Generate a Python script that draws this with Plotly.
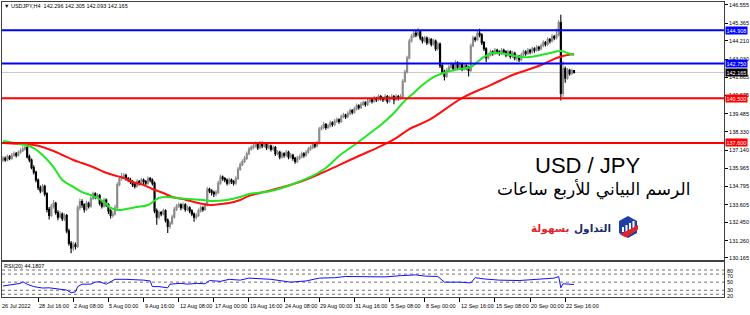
import plotly.graph_objects as go

# ---------------- data (USDJPY H4) ----------------
bar_index = list(range(261))

opens = [136.50,136.60,136.50,136.70,136.60,136.80,136.90,136.80,137.00,137.10,
137.20,137.30,136.70,136.50,136.00,135.70,135.20,134.70,134.50,134.80,
134.30,133.30,132.90,133.50,133.70,133.10,132.80,133.00,132.70,132.90,
131.90,131.10,130.80,131.00,130.90,133.40,133.80,133.60,133.30,133.70,
133.50,134.00,134.30,134.10,134.20,133.70,133.50,133.90,133.60,133.20,
132.90,133.00,133.40,134.90,135.30,135.40,135.50,135.30,135.20,135.10,
134.90,134.80,135.10,135.00,135.20,135.10,135.00,135.30,135.20,135.00,
133.20,132.80,133.10,133.00,133.20,132.60,132.20,132.40,132.80,133.30,
133.50,133.60,133.40,133.60,133.30,133.40,133.20,133.00,132.80,132.90,
133.20,133.40,133.30,133.60,134.60,134.50,134.40,134.30,134.40,135.00,
135.40,135.30,135.20,135.00,135.20,135.10,135.00,135.30,135.90,136.20,
136.40,136.60,136.90,137.20,137.30,137.40,137.50,137.30,137.60,137.40,
137.50,137.30,137.40,137.20,137.30,136.90,137.00,136.70,136.90,136.80,
137.00,136.70,136.80,136.60,136.40,136.60,136.70,136.90,136.80,137.00,
137.20,137.30,137.50,137.40,137.60,138.50,138.60,138.80,138.60,138.70,
138.90,138.80,139.00,139.10,139.00,139.30,139.40,139.30,139.50,139.70,
139.60,139.80,140.00,139.90,140.10,140.20,140.10,140.30,140.40,140.30,
140.50,140.40,140.60,140.50,140.40,140.60,140.30,140.50,140.60,140.40,
140.60,140.50,140.60,141.60,142.20,143.10,144.20,144.50,144.70,144.60,
144.80,144.40,144.20,144.40,144.10,144.30,144.00,144.20,143.70,144.00,
142.60,142.20,141.90,142.30,142.50,142.70,142.40,142.80,142.50,142.70,
142.40,142.60,142.50,142.30,143.90,144.40,144.30,144.70,144.60,144.10,
143.70,143.10,143.30,143.50,143.40,143.60,143.50,143.40,143.60,143.50,
143.30,143.50,143.20,143.40,143.10,143.20,143.00,143.30,143.50,143.40,
143.60,143.50,143.70,143.60,143.80,143.70,143.90,144.10,144.00,144.30,
144.20,144.50,144.40,144.60,145.40,140.80,142.40,141.80,142.30,142.10,
142.296]

highs = [136.75,136.72,136.85,136.82,136.95,137.05,137.02,137.12,137.25,137.38,
137.65,137.40,136.85,136.60,136.15,135.80,135.30,134.85,134.95,134.90,
134.40,133.45,133.65,133.90,133.80,133.25,133.20,133.10,133.05,133.00,
132.05,131.25,131.20,131.15,133.55,134.00,133.95,133.70,133.85,133.80,
134.15,134.45,134.40,134.35,134.30,133.85,134.05,134.00,133.70,133.30,
133.20,133.60,135.05,135.45,135.65,135.65,135.60,135.40,135.35,135.20,
135.00,135.25,135.20,135.35,135.30,135.20,135.45,135.40,135.30,135.10,
133.35,133.25,133.20,133.35,133.30,132.70,132.55,132.95,133.45,133.65,
133.75,133.70,133.75,133.70,133.55,133.50,133.30,133.10,133.05,133.35,
133.55,133.50,133.75,134.75,134.70,134.60,134.50,134.55,135.15,135.55,
135.50,135.40,135.30,135.35,135.30,135.20,135.45,136.05,136.35,136.55,
136.75,137.05,137.35,137.45,137.55,137.70,137.60,137.75,137.70,137.65,
137.60,137.55,137.50,137.45,137.40,137.15,137.10,137.05,137.00,137.15,
137.10,136.95,136.90,136.70,136.75,136.85,137.05,137.00,137.15,137.35,
137.45,137.65,137.60,137.75,138.65,138.75,138.95,138.90,138.85,139.05,
139.00,139.15,139.25,139.20,139.45,139.55,139.50,139.65,139.85,139.80,
139.95,140.15,140.10,140.25,140.35,140.30,140.45,140.55,140.50,140.65,
140.60,140.75,140.70,140.60,140.75,140.70,140.65,140.75,140.70,140.75,
140.70,140.75,141.75,142.35,143.25,144.35,144.65,144.85,144.85,145.05,
144.90,144.50,144.55,144.50,144.45,144.40,144.35,144.30,144.15,144.10,
142.75,142.35,142.45,142.65,142.85,142.80,142.95,142.90,142.85,142.80,
142.75,142.70,142.60,144.05,144.55,144.50,144.85,145.00,144.70,144.20,
143.80,143.45,143.65,143.60,143.75,143.70,143.60,143.75,143.70,143.60,
143.65,143.60,143.55,143.50,143.35,143.30,143.45,143.65,143.60,143.75,
143.70,143.85,143.80,143.95,143.90,144.05,144.25,144.20,144.45,144.40,
144.65,144.60,145.00,145.55,145.90,142.90,142.55,142.45,142.40,142.40,
142.305]

lows = [136.35,136.38,136.42,136.48,136.52,136.70,136.66,136.72,136.90,137.02,
137.10,136.60,136.35,135.90,135.55,135.05,134.55,134.35,134.40,134.15,
133.10,132.65,132.80,133.35,132.95,132.60,132.70,132.55,132.55,131.75,
130.95,130.45,130.60,130.70,130.80,133.25,133.40,133.10,133.20,133.35,
133.40,133.90,133.95,133.95,133.55,133.35,133.40,133.45,133.00,132.70,
132.75,132.90,133.30,134.80,135.15,135.30,135.15,135.05,134.95,134.75,
134.65,134.70,134.85,134.90,134.95,134.85,134.90,135.05,134.85,133.05,
132.30,132.65,132.85,132.90,132.45,131.77,132.05,132.30,132.70,133.20,
133.40,133.25,133.30,133.15,133.20,133.05,132.85,132.50,132.65,132.80,
133.10,133.15,133.20,133.50,134.35,134.20,134.10,134.15,134.30,134.90,
135.15,135.05,134.85,134.90,134.95,134.85,134.90,135.20,135.80,136.10,
136.30,136.50,136.80,137.10,137.20,137.30,137.15,137.20,137.25,137.30,
137.15,137.20,137.05,137.10,136.75,136.80,136.55,136.60,136.65,136.70,
136.55,136.60,136.45,136.25,136.30,136.50,136.60,136.65,136.70,136.90,
137.10,137.20,137.25,137.30,137.50,138.40,138.50,138.45,138.50,138.60,
138.65,138.70,138.90,138.85,138.90,139.20,139.15,139.20,139.40,139.45,
139.50,139.70,139.75,139.80,140.00,139.95,140.00,140.20,140.15,140.20,
140.25,140.30,140.35,140.25,140.30,140.15,140.20,140.40,140.10,140.30,
140.35,140.40,140.50,141.50,142.10,143.00,144.10,144.40,144.45,144.50,
144.25,144.05,144.10,143.95,144.00,143.85,143.90,143.55,143.60,142.45,
142.05,141.65,141.80,142.20,142.40,142.25,142.30,142.35,142.40,142.25,
142.30,142.35,141.90,142.20,143.80,144.15,144.20,144.45,143.95,143.55,
142.85,143.00,143.20,143.25,143.30,143.35,143.25,143.30,143.35,143.15,
143.20,143.05,143.10,142.95,142.90,142.85,142.90,143.20,143.25,143.30,
143.35,143.40,143.45,143.50,143.55,143.60,143.80,143.85,143.90,144.05,
144.10,144.25,144.30,144.50,140.35,140.60,141.50,141.70,141.95,142.00,
142.093]

closes = [136.60,136.50,136.70,136.60,136.80,136.90,136.80,137.00,137.10,137.20,
137.30,136.70,136.50,136.00,135.70,135.20,134.70,134.50,134.80,134.30,
133.30,132.90,133.50,133.70,133.10,132.80,133.00,132.70,132.90,131.90,
131.10,130.80,131.00,130.90,133.40,133.80,133.60,133.30,133.70,133.50,
134.00,134.30,134.10,134.20,133.70,133.50,133.90,133.60,133.20,132.90,
133.00,133.40,134.90,135.30,135.40,135.50,135.30,135.20,135.10,134.90,
134.80,135.10,135.00,135.20,135.10,135.00,135.30,135.20,135.00,133.20,
132.80,133.10,133.00,133.20,132.60,132.20,132.40,132.80,133.30,133.50,
133.60,133.40,133.60,133.30,133.40,133.20,133.00,132.80,132.90,133.20,
133.40,133.30,133.60,134.60,134.50,134.40,134.30,134.40,135.00,135.40,
135.30,135.20,135.00,135.20,135.10,135.00,135.30,135.90,136.20,136.40,
136.60,136.90,137.20,137.30,137.40,137.50,137.30,137.60,137.40,137.50,
137.30,137.40,137.20,137.30,136.90,137.00,136.70,136.90,136.80,137.00,
136.70,136.80,136.60,136.40,136.60,136.70,136.90,136.80,137.00,137.20,
137.30,137.50,137.40,137.60,138.50,138.60,138.80,138.60,138.70,138.90,
138.80,139.00,139.10,139.00,139.30,139.40,139.30,139.50,139.70,139.60,
139.80,140.00,139.90,140.10,140.20,140.10,140.30,140.40,140.30,140.50,
140.40,140.60,140.50,140.40,140.60,140.30,140.50,140.60,140.40,140.60,
140.50,140.60,141.60,142.20,143.10,144.20,144.50,144.70,144.60,144.80,
144.40,144.20,144.40,144.10,144.30,144.00,144.20,143.70,144.00,142.60,
142.20,141.90,142.30,142.50,142.70,142.40,142.80,142.50,142.70,142.40,
142.60,142.50,142.30,143.90,144.40,144.30,144.70,144.60,144.10,143.70,
143.10,143.30,143.50,143.40,143.60,143.50,143.40,143.60,143.50,143.30,
143.50,143.20,143.40,143.10,143.20,143.00,143.30,143.50,143.40,143.60,
143.50,143.70,143.60,143.80,143.70,143.90,144.10,144.00,144.30,144.20,
144.50,144.40,144.60,145.40,140.80,142.40,141.80,142.30,142.10,142.296,
142.165]

# moving averages, read at sample bars
ma_fast_idx = [0,10,14,18,23,27,32,36,41,46,49,52,56,61,66,71,75,79,85,91,96,102,108,112,
               122,131,140,147,153,160,166,172,178,182,187,191,196,202,208,213,216,219,
               223,226,231,235,240,245,249,254,257,260]
ma_fast = [137.73,137.47,137.27,136.82,136.04,135.20,134.75,134.42,134.17,133.78,133.39,133.26,
           133.32,133.45,133.58,134.04,134.10,134.04,133.97,133.91,133.84,133.91,134.10,134.29,
           134.49,134.88,135.40,135.98,136.76,137.47,138.12,138.76,139.54,140.19,140.84,141.35,
           141.87,142.20,142.39,142.52,142.84,143.17,143.43,143.43,143.30,143.17,143.17,143.30,
           143.43,143.56,143.43,143.30]
ma_slow_idx = [0,8,14,18,23,27,32,36,41,46,50,55,59,64,68,73,77,82,87,91,94,99,103,108,112,117,
               126,135,144,153,163,172,179,185,194,209,222,232,245,252,255,260]
ma_slow = [137.60,137.53,137.47,137.34,137.08,136.82,136.50,136.30,136.04,135.72,135.53,135.33,
           135.07,134.88,134.62,134.36,134.10,133.97,133.78,133.65,133.58,133.65,133.71,133.91,
           134.17,134.36,134.68,135.07,135.59,136.17,136.82,137.40,137.92,138.50,139.09,140.51,
           141.35,142.00,142.65,143.10,143.23,143.36]

# RSI(20), read at sample bars
rsi_idx = [0,3,8,9,11,14,18,21,26,29,31,33,34,36,40,42,44,47,51,56,64,67,68,71,75,76,81,84,88,
           92,94,99,103,108,112,122,131,138,144,151,156,165,174,181,188,192,198,201,208,213,215,
           219,226,235,245,251,253,254,255,257,259,260]
rsi_vals = [40.5,43,47,51,45,39,35.5,36,32,30.5,24,26,39,45,45,50,51,45,57,57,55,53,39,39,36,45,
            47,45,47,46,54,52,57,55,60,57,50,53,60,61,64,63,63,66,68,65,64,50,50,48,61,
            58,55,54,57,60,64,36,46,45,45,44.1807]
rsi_levels = [80, 70, 50, 30, 20]
rsi_scale_labels = ["100", "80", "70", "50", "30", "20", "0"]
rsi_scale_values = [100, 80, 70, 50, 30, 20, 0]

# horizontal levels
levels = [144.908, 142.750, 140.500, 137.600]
level_colors = ["#0000ff", "#0000ff", "#ff0000", "#ff0000"]
bid_price = 142.165

# axes labels
price_ticks = [146.555, 145.365, 144.210, 143.030, 141.865, 140.675, 139.485, 138.330,
               137.140, 135.965, 134.795, 133.605, 132.450, 131.260, 130.165]
time_tick_idx = [0, 16, 32, 48, 64, 80, 96, 112, 128, 144, 160, 176, 192, 208, 224, 240, 256]
time_tick_text = ["26 Jul 2022", "28 Jul 16:00", "2 Aug 08:00", "5 Aug 00:00", "9 Aug 16:00",
                  "12 Aug 08:00", "17 Aug 00:00", "19 Aug 16:00", "24 Aug 08:00", "29 Aug 00:00",
                  "31 Aug 16:00", "5 Sep 08:00", "8 Sep 00:00", "12 Sep 16:00", "15 Sep 08:00",
                  "20 Sep 00:00", "22 Sep 16:00"]

# ---------------- figure ----------------
W, H = 750, 315
ML, MR, MT, MB = 2, 26, 2, 18
PW, PH = W - ML - MR, H - MT - MB
SMALL = dict(family="Liberation Sans, Arial, sans-serif", size=5.5, color="#000000")


def px(x, y):
    return (x - ML) / PW, (H - MB - y) / PH


fig = go.Figure()
fig.add_trace(go.Candlestick(
    x=bar_index, open=opens, high=highs, low=lows, close=closes,
    increasing=dict(line=dict(color="#8c8c8c", width=1.1), fillcolor="#8c8c8c"),
    decreasing=dict(line=dict(color="#000000", width=1.1), fillcolor="#000000"),
    whiskerwidth=0, showlegend=False, hoverinfo="skip", xaxis="x", yaxis="y"))
fig.add_trace(go.Scatter(x=ma_slow_idx, y=ma_slow, mode="lines", showlegend=False,
                         line=dict(color="#ff1010", width=2, shape="spline"), xaxis="x", yaxis="y"))
fig.add_trace(go.Scatter(x=ma_fast_idx, y=ma_fast, mode="lines", showlegend=False,
                         line=dict(color="#22e622", width=2, shape="spline"), xaxis="x", yaxis="y"))
fig.add_trace(go.Scatter(x=rsi_idx, y=rsi_vals, mode="lines", showlegend=False,
                         line=dict(color="#1010ff", width=1), xaxis="x2", yaxis="y2"))

shapes = []
shapes.append(dict(type="line", xref="paper", x0=0, x1=1, yref="y", y0=bid_price, y1=bid_price,
                   line=dict(color="#c8c8c8", width=1), layer="below"))
for lv, col in zip(levels, level_colors):
    shapes.append(dict(type="line", xref="paper", x0=0, x1=1, yref="y", y0=lv, y1=lv,
                       line=dict(color=col, width=2)))
for lv in rsi_levels:
    shapes.append(dict(type="line", xref="paper", x0=0, x1=1, yref="y2", y0=lv, y1=lv,
                       line=dict(color="#707070", width=1, dash="dot"), layer="below"))


# logo icon (decoration)
def path_from(points):
    s = ""
    for k, (x, y) in enumerate(points):
        a, b = px(x, y)
        s += ("M" if k == 0 else "L") + f"{a:.5f},{b:.5f} "
    return s + "Z"


shapes.append(dict(type="path", xref="paper", yref="paper",
                   path=path_from([(628, 216), (637, 221), (637, 233), (628, 238), (619, 233), (619, 221)]),
                   fillcolor="#1e3fa8", line=dict(width=0)))
for (bx, top) in [(622, 227), (625.5, 225), (629, 223), (632.5, 221)]:
    shapes.append(dict(type="path", xref="paper", yref="paper",
                       path=path_from([(bx, top), (bx + 2, top), (bx + 2, 232), (bx, 232)]),
                       fillcolor="#ffffff", line=dict(width=0)))
shapes.append(dict(type="path", xref="paper", yref="paper",
                   path=path_from([(620, 234.5), (638, 225), (638, 229.5), (626, 237.5)]),
                   fillcolor="#e3232c", line=dict(width=0)))

ann = []
for idx, txt in zip(time_tick_idx, time_tick_text):
    ann.append(dict(x=idx, xref="x2", y=0, yref="paper", yanchor="top", xanchor="left",
                    yshift=-4, xshift=-1 if idx else -3, text=txt, showarrow=False, font=SMALL))
for lv, col in zip(levels, level_colors):
    ann.append(dict(x=1, xref="paper", y=lv, yref="y", xanchor="left", yanchor="middle", xshift=1,
                    text=f"{lv:.3f}", showarrow=False, bgcolor=col, borderpad=0.5,
                    font=dict(family=SMALL["family"], size=5.5, color="#ffffff")))
ann.append(dict(x=1, xref="paper", y=bid_price, yref="y", xanchor="left", yanchor="middle", xshift=1,
                text=f"{bid_price:.3f}", showarrow=False, bgcolor="#000000", borderpad=0.5,
                font=dict(family=SMALL["family"], size=5.5, color="#ffffff")))
rsi_label_shift = [-3, 1, 2, 0, 0, 1.5, 3.4]
for t, v, sh in zip(rsi_scale_labels, rsi_scale_values, rsi_label_shift):
    ann.append(dict(x=1, xref="paper", y=v, yref="y2", xanchor="left", yanchor="middle", xshift=1,
                    yshift=-sh, text=t, showarrow=False, font=SMALL))

hx, hy = px(2, 6)
ann.append(dict(x=hx, y=hy, xref="paper", yref="paper", xanchor="left", yanchor="middle",
                text="▼ USDJPY,H4  142.296 142.305 142.093 142.165", showarrow=False, font=SMALL))
rx, ry = px(2, 265.5)
ann.append(dict(x=rx, y=ry, xref="paper", yref="paper", xanchor="left", yanchor="middle",
                text=f"RSI(20) {rsi_vals[-1]:.4f}", showarrow=False, font=SMALL))

tx, ty = px(587, 165.5)
ann.append(dict(x=tx, y=ty, xref="paper", yref="paper", xanchor="center", yanchor="middle",
                text="USD / JPY", showarrow=False,
                font=dict(family="Liberation Sans, Arial", size=22, color="#000000")))
ax_, ay_ = px(593, 190)
ann.append(dict(x=ax_, y=ay_, xref="paper", yref="paper", xanchor="center", yanchor="middle",
                text="الرسم البياني للأربع ساعات", showarrow=False,
                font=dict(family="DejaVu Sans", size=17, color="#000000")))
l1x, l1y = px(613, 228)
ann.append(dict(x=l1x, y=l1y, xref="paper", yref="paper", xanchor="right", yanchor="middle",
                text="<b>التداول</b>", showarrow=False,
                font=dict(family="DejaVu Sans", size=10.5, color="#1b2a6b")))
l2x, l2y = px(572, 228)
ann.append(dict(x=l2x, y=l2y, xref="paper", yref="paper", xanchor="right", yanchor="middle",
                text="<b>بسهولة</b>", showarrow=False,
                font=dict(family="DejaVu Sans", size=10.5, color="#e3232c")))

xr = [-0.46, 328.3]
axis_common = dict(showgrid=False, zeroline=False, showline=True, mirror=True,
                   linecolor="#404040", linewidth=1, automargin=False)
fig.update_layout(
    width=W, height=H, margin=dict(l=ML, r=MR, t=MT, b=MB),
    paper_bgcolor="#ffffff", plot_bgcolor="#ffffff", template="none",
    showlegend=False, shapes=shapes, annotations=ann,
    xaxis=dict(domain=[0, 1], range=xr, anchor="y", showticklabels=False, ticks="",
               rangeslider=dict(visible=False), **axis_common),
    yaxis=dict(domain=[0.127, 1], range=[130.05, 146.73], side="right", anchor="x",
               tickvals=price_ticks, ticktext=[f"{v:.3f}" for v in price_ticks],
               ticks="outside", ticklen=3, tickcolor="#000000", tickfont=SMALL, **axis_common),
    xaxis2=dict(domain=[0, 1], range=xr, anchor="y2", showticklabels=False,
                tickvals=time_tick_idx[1:], ticks="outside", ticklen=4, tickcolor="#000000",
                **axis_common),
    yaxis2=dict(domain=[0, 0.1186], range=[13.3, 99.8], side="right", anchor="x2",
                showticklabels=False, ticks="", **axis_common),
)

fig.write_html("out.html")
